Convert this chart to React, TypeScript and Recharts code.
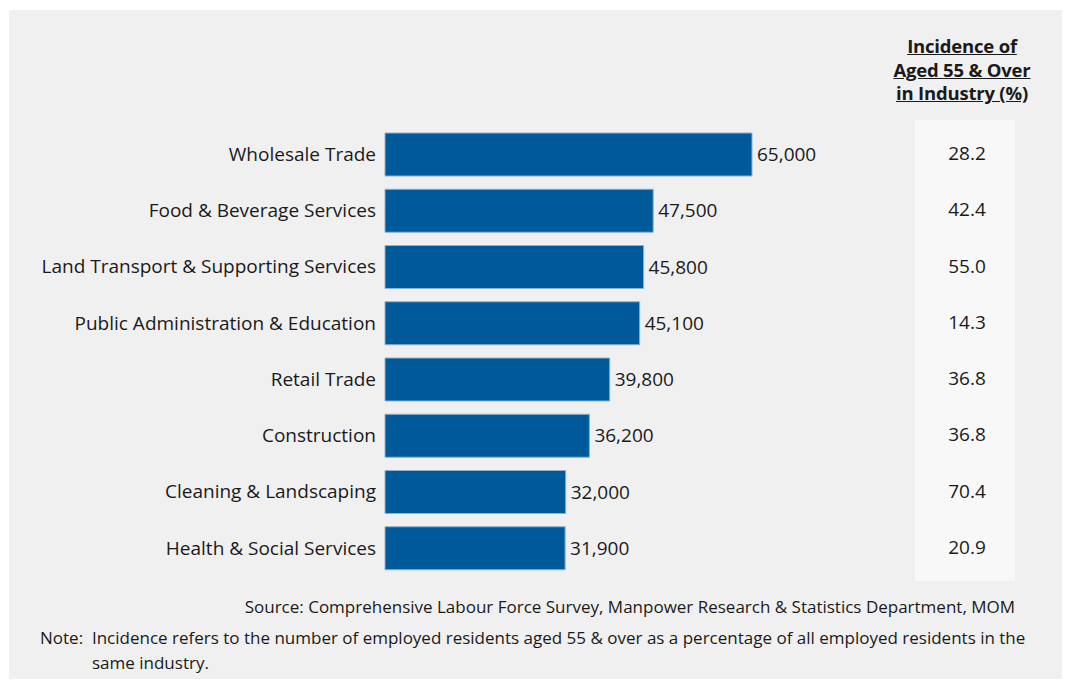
import { BarChart, Bar, XAxis, YAxis, LabelList } from "recharts";

const industries = [
  "Wholesale Trade",
  "Food & Beverage Services",
  "Land Transport & Supporting Services",
  "Public Administration & Education",
  "Retail Trade",
  "Construction",
  "Cleaning & Landscaping",
  "Health & Social Services",
];
const employed55 = [65000, 47500, 45800, 45100, 39800, 36200, 32000, 31900];
const incidence = [28.2, 42.4, 55.0, 14.3, 36.8, 36.8, 70.4, 20.9];

const data = industries.map((name, i) => ({
  name,
  value: employed55[i],
  incidence: incidence[i],
}));

const FONT = "'Open Sans', sans-serif";
const TEXT = "#1a1a1a";

// right axis tick: draws the incidence figure in the column on the right
const IncidenceTick = (props: any) => {
  const { x, y, payload } = props;
  const i = industries.indexOf(payload.value);
  return (
    <text
      x={x + 207}
      y={y}
      dy={6}
      textAnchor="middle"
      fontSize={19}
      fill={TEXT}
      fontFamily={FONT}
    >
      {incidence[i].toFixed(1)}
    </text>
  );
};

export default function App() {
  return (
    <div
      style={{
        position: "absolute",
        left: 0,
        top: 0,
        width: 1065,
        height: 682,
        background: "#fff",
        fontFamily: FONT,
        color: TEXT,
      }}
    >
      <div
        style={{
          position: "absolute",
          left: 9,
          top: 10,
          width: 1053,
          height: 669,
          background: "#f0f0f0",
        }}
      />
      <div
        style={{
          position: "absolute",
          left: 915,
          top: 120,
          width: 100,
          height: 461,
          background: "#f8f8f8",
        }}
      />
      <div
        style={{
          position: "absolute",
          left: 872,
          top: 34,
          width: 180,
          textAlign: "center",
          fontWeight: 700,
          fontSize: 18.5,
          lineHeight: "23.5px",
          textDecoration: "underline",
          letterSpacing: -0.2,
        }}
      >
        Incidence of
        <br />
        Aged 55 &amp; Over
        <br />
        in Industry (%)
      </div>
      <div style={{ position: "absolute", left: 0, top: 0 }}>
        <BarChart
          width={1065}
          height={682}
          data={data}
          layout="vertical"
          margin={{ top: 126, right: 0, bottom: 106, left: 0 }}
          barSize={43}
        >
          <XAxis type="number" domain={[0, 65000]} hide />
          <YAxis
            yAxisId="left"
            type="category"
            dataKey="name"
            width={385}
            axisLine={false}
            tickLine={false}
            tickMargin={3}
            tick={{ fontSize: 19, fill: TEXT, fontFamily: FONT }}
            interval={0}
          />
          <YAxis
            yAxisId="right"
            orientation="right"
            type="category"
            dataKey="name"
            width={313}
            axisLine={false}
            tickLine={false}
            tick={<IncidenceTick />}
            interval={0}
          />
          <Bar
            yAxisId="left"
            dataKey="value"
            fill="#005a9a"
            stroke="#8fb0d0"
            strokeWidth={1}
            isAnimationActive={false}
          >
            <LabelList
              dataKey="value"
              position="right"
              offset={5}
              formatter={(v: any) => Number(v).toLocaleString("en-US")}
              style={{ fontSize: 19, fill: TEXT, fontFamily: FONT }}
            />
          </Bar>
        </BarChart>
      </div>
      <div
        style={{
          position: "absolute",
          right: 50,
          top: 595,
          fontSize: 17,
          whiteSpace: "nowrap",
        }}
      >
        Source: Comprehensive Labour Force Survey, Manpower Research &amp; Statistics Department, MOM
      </div>
      <div
        style={{
          position: "absolute",
          left: 40,
          top: 625,
          fontSize: 17,
          lineHeight: "25px",
          whiteSpace: "nowrap",
        }}
      >
        Note:&nbsp; Incidence refers to the number of employed residents aged 55 &amp; over as a percentage of all employed residents in the
        <br />
        <span style={{ paddingLeft: 52 }}>same industry.</span>
      </div>
    </div>
  );
}
